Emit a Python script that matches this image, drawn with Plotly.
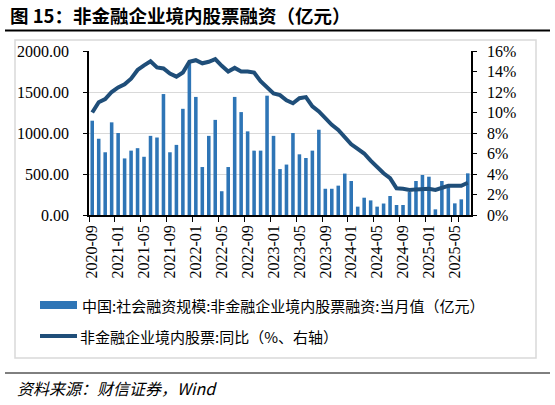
import plotly.graph_objects as go

# monthly data, 2020-09 .. 2025-07
months = [
    "2020-09", "2020-10", "2020-11", "2020-12",
    "2021-01", "2021-02", "2021-03", "2021-04", "2021-05", "2021-06",
    "2021-07", "2021-08", "2021-09", "2021-10", "2021-11", "2021-12",
    "2022-01", "2022-02", "2022-03", "2022-04", "2022-05", "2022-06",
    "2022-07", "2022-08", "2022-09", "2022-10", "2022-11", "2022-12",
    "2023-01", "2023-02", "2023-03", "2023-04", "2023-05", "2023-06",
    "2023-07", "2023-08", "2023-09", "2023-10", "2023-11", "2023-12",
    "2024-01", "2024-02", "2024-03", "2024-04", "2024-05", "2024-06",
    "2024-07", "2024-08", "2024-09", "2024-10", "2024-11", "2024-12",
    "2025-01", "2025-02", "2025-03", "2025-04", "2025-05", "2025-06",
    "2025-07",
]

# 当月值（亿元）
equity_financing = [
    1150, 930, 765, 1130,
    1000, 690, 785, 815, 710, 965,
    945, 1475, 765, 855, 1295, 1860,
    1440, 585, 965, 1160, 290, 585,
    1440, 1255, 1020, 785, 785, 1455,
    965, 560, 615, 1000, 740, 695,
    785, 1040, 320, 320, 358, 505,
    415, 102, 211, 178, 102, 140,
    232, 122, 122, 280, 415, 488,
    467, 69, 415, 355, 142, 191,
    508,
]

# 同比（%）
yoy_growth = [
    10.0, 11.0, 11.3, 12.0,
    12.45, 12.75, 13.3, 14.15, 14.6, 15.0,
    14.4, 14.3, 13.8, 13.5, 13.9, 14.95,
    15.1, 14.8, 14.95, 15.2, 14.55, 14.0,
    14.35, 14.0, 14.0, 13.9, 13.05, 12.4,
    11.85, 11.7, 11.2, 10.9, 11.4, 11.5,
    10.6, 10.1, 9.4, 8.8, 8.3, 7.64,
    6.9, 6.44, 6.0, 5.3, 4.65, 4.07,
    3.6, 2.6, 2.55, 2.45, 2.5, 2.5,
    2.55, 2.45, 2.6, 2.85, 2.85, 2.85,
    3.15,
]

tick_labels = months[::4]

bar_name = "中国:社会融资规模:非金融企业境内股票融资:当月值（亿元）"
line_name = "非金融企业境内股票:同比（%、右轴）"
title = "图 15：非金融企业境内股票融资（亿元）"
source = "资料来源：财信证券，Wind"

BAR_COLOR = "#2E75B6"
LINE_COLOR = "#1F4E79"
CJK = "Noto Sans CJK SC"
SERIF = "Liberation Serif"

W, H = 555, 405
L, R, T, B = 89, 84, 51, 190
pw, ph = W - L - R, H - T - B


def px(x):
    return (x - L) / pw


def py(y):
    return (H - B - y) / ph


fig = go.Figure()
fig.add_trace(go.Bar(x=months, y=equity_financing, name=bar_name,
                     marker=dict(color=BAR_COLOR, line=dict(width=0))))
fig.add_trace(go.Scatter(x=months, y=yoy_growth, name=line_name, yaxis="y2",
                         mode="lines", line=dict(color=LINE_COLOR, width=4)))

shapes = [
    # title rule
    dict(type="line", xref="paper", yref="paper", x0=px(5), x1=px(550),
         y0=py(30.5), y1=py(30.5), line=dict(color="black", width=2)),
    # chart frame
    dict(type="rect", xref="paper", yref="paper", x0=px(15), x1=px(536),
         y0=py(358), y1=py(40), line=dict(color="#D9D9D9", width=1.5)),
    # bottom rule
    dict(type="line", xref="paper", yref="paper", x0=px(5), x1=px(550),
         y0=py(373), y1=py(373), line=dict(color="black", width=1)),
    # legend keys
    dict(type="rect", xref="paper", yref="paper", x0=px(40), x1=px(77),
         y0=py(309), y1=py(301), fillcolor=BAR_COLOR, line=dict(width=0)),
    dict(type="line", xref="paper", yref="paper", x0=px(40), x1=px(77),
         y0=py(336), y1=py(336), line=dict(color=LINE_COLOR, width=4)),
]

annotations = [
    dict(text="<b>" + title + "</b>", x=px(8), y=py(15), xref="paper", yref="paper",
         xanchor="left", yanchor="middle", showarrow=False,
         font=dict(family=CJK, size=18.5, color="black")),
    dict(text=bar_name, x=px(80), y=py(305), xref="paper", yref="paper",
         xanchor="left", yanchor="middle", showarrow=False,
         font=dict(family=CJK, size=15, color="black")),
    dict(text=line_name, x=px(78), y=py(336), xref="paper", yref="paper",
         xanchor="left", yanchor="middle", showarrow=False,
         font=dict(family=CJK, size=15, color="black")),
    dict(text="<i>" + source + "</i>", x=px(15), y=py(388), xref="paper", yref="paper",
         xanchor="left", yanchor="middle", showarrow=False,
         font=dict(family=CJK, size=16, color="black")),
]

fig.update_layout(
    width=W, height=H,
    margin=dict(l=L, r=R, t=T, b=B, pad=0),
    paper_bgcolor="white", plot_bgcolor="white",
    showlegend=False,
    bargap=0.45,
    shapes=shapes,
    annotations=annotations,
    xaxis=dict(type="category", tickvals=tick_labels, ticktext=tick_labels,
               tickangle=-90, ticks="outside", ticklen=5, tickcolor="black",
               tickson="boundaries", showline=True, linecolor="black", linewidth=1.5,
               showgrid=False, automargin=False, ticklabelstandoff=2,
               tickfont=dict(family=SERIF, size=16, color="black")),
    yaxis=dict(range=[0, 2000], dtick=500, tickformat=".2f", ticks="outside",
               ticklen=4, tickcolor="black", showline=True, linecolor="black",
               linewidth=1.5, showgrid=True, gridcolor="#D9D9D9", zeroline=False,
               automargin=False, ticklabelstandoff=11,
               tickfont=dict(family=SERIF, size=16, color="black")),
    yaxis2=dict(range=[0, 16], dtick=2, ticksuffix="%", overlaying="y", side="right",
                ticks="outside", ticklen=4, tickcolor="black", showline=True,
                linecolor="black", linewidth=1.5, showgrid=False, zeroline=False,
                automargin=False, ticklabelstandoff=7,
                tickfont=dict(family=SERIF, size=16, color="black")),
)

# drop the default page margin so the figure sits at the window's corner
fig.write_html("out.html", config={"displayModeBar": False},
               post_script="document.body.style.margin = '0px';")
